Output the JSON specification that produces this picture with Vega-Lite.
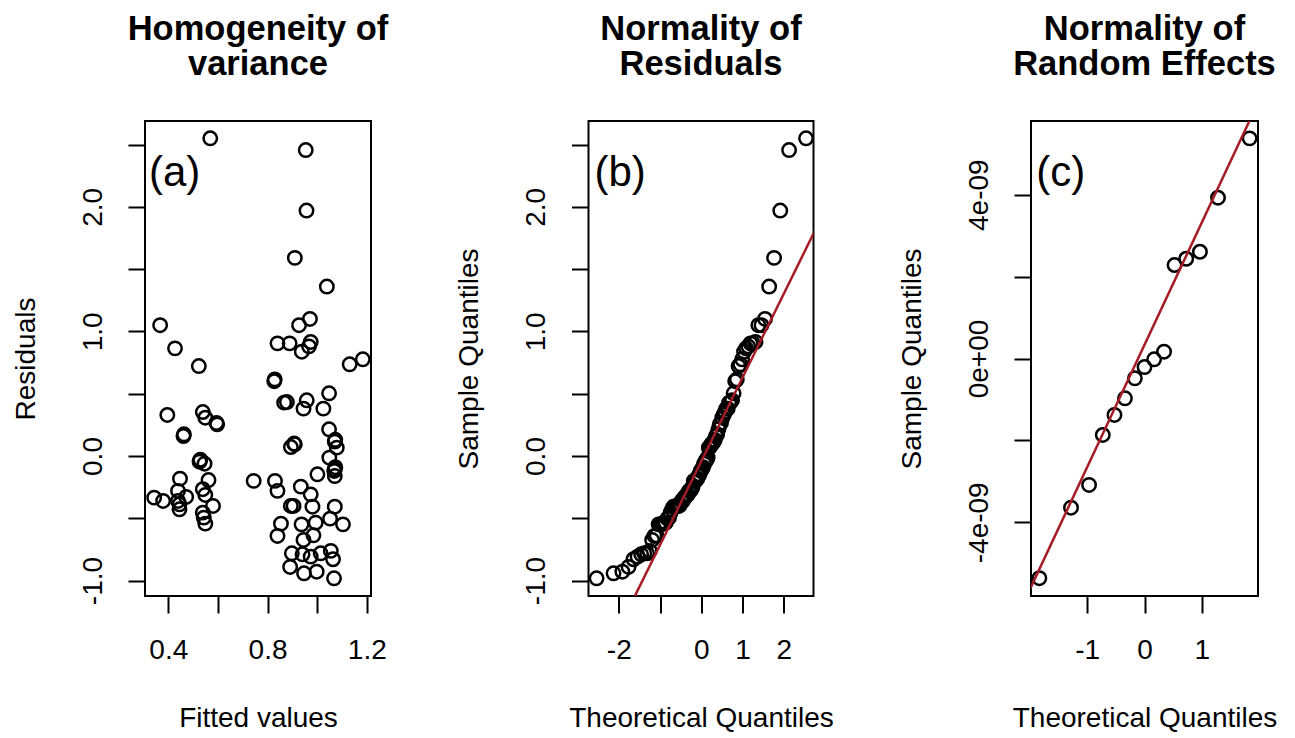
{
  "$schema": "https://vega.github.io/schema/vega-lite/v6.json",
  "autosize": {"type": "pad"},
  "padding": {"left": 11, "top": 10, "right": 5, "bottom": 5},
  "background": "white",
  "bounds": "flush",
  "spacing": 217.5,
  "config": {
    "font": "Liberation Sans",
    "view": {"stroke": "black", "strokeWidth": 2},
    "axis": {
      "domain": false, "grid": false,
      "tickColor": "black", "tickWidth": 2, "tickSize": 17,
      "labelFont": "Liberation Sans", "labelFontSize": 28, "labelColor": "black",
      "titleFont": "Liberation Sans", "titleFontSize": 28, "titleFontWeight": "normal", "titleColor": "black"
    },
    "axisX": {"labelPadding": 23, "titlePadding": 40, "labelAngle": 0},
    "axisY": {"labelPadding": 21, "titlePadding": 39, "labelAngle": -90, "labelAlign": "center", "labelBaseline": "bottom"},
    "title": {"font": "Liberation Sans", "fontSize": 34.5, "fontWeight": "bold", "color": "black", "anchor": "middle", "frame": "group", "lineHeight": 35, "offset": 39}
  },
  "datasets": {
    "residuals": [
      {"fitted": 0.569, "residual": 2.55}, {"fitted": 0.954, "residual": 2.456}, {"fitted": 0.957, "residual": 1.97},
      {"fitted": 0.910, "residual": 1.59}, {"fitted": 1.039, "residual": 1.36}, {"fitted": 0.367, "residual": 1.05},
      {"fitted": 0.971, "residual": 1.10}, {"fitted": 0.927, "residual": 1.05}, {"fitted": 0.427, "residual": 0.864},
      {"fitted": 0.840, "residual": 0.904}, {"fitted": 0.889, "residual": 0.904}, {"fitted": 0.974, "residual": 0.915},
      {"fitted": 0.967, "residual": 0.88}, {"fitted": 0.938, "residual": 0.837}, {"fitted": 1.131, "residual": 0.736},
      {"fitted": 1.184, "residual": 0.776}, {"fitted": 0.523, "residual": 0.722}, {"fitted": 0.827, "residual": 0.60},
      {"fitted": 1.048, "residual": 0.503}, {"fitted": 0.867, "residual": 0.428}, {"fitted": 0.878, "residual": 0.433},
      {"fitted": 0.958, "residual": 0.447}, {"fitted": 0.945, "residual": 0.38}, {"fitted": 1.025, "residual": 0.38},
      {"fitted": 0.396, "residual": 0.329}, {"fitted": 0.539, "residual": 0.353}, {"fitted": 0.549, "residual": 0.307},
      {"fitted": 0.597, "residual": 0.254}, {"fitted": 0.463, "residual": 0.174}, {"fitted": 1.048, "residual": 0.214},
      {"fitted": 1.071, "residual": 0.115}, {"fitted": 1.079, "residual": 0.067}, {"fitted": 0.894, "residual": 0.072},
      {"fitted": 0.910, "residual": 0.094}, {"fitted": 1.049, "residual": -0.013}, {"fitted": 0.526, "residual": -0.046},
      {"fitted": 0.546, "residual": -0.062}, {"fitted": 1.071, "residual": -0.107}, {"fitted": 1.071, "residual": -0.161},
      {"fitted": 1.001, "residual": -0.147}, {"fitted": 0.744, "residual": -0.2}, {"fitted": 0.830, "residual": -0.2},
      {"fitted": 0.840, "residual": -0.28}, {"fitted": 0.447, "residual": -0.182}, {"fitted": 0.562, "residual": -0.193},
      {"fitted": 0.934, "residual": -0.246}, {"fitted": 0.974, "residual": -0.308}, {"fitted": 0.539, "residual": -0.267},
      {"fitted": 0.549, "residual": -0.313}, {"fitted": 0.439, "residual": -0.281}, {"fitted": 0.472, "residual": -0.329},
      {"fitted": 0.343, "residual": -0.334}, {"fitted": 0.379, "residual": -0.361}, {"fitted": 0.439, "residual": -0.361},
      {"fitted": 0.445, "residual": -0.388}, {"fitted": 0.445, "residual": -0.428}, {"fitted": 0.58, "residual": -0.401},
      {"fitted": 0.894, "residual": -0.401}, {"fitted": 0.905, "residual": -0.401}, {"fitted": 0.981, "residual": -0.407},
      {"fitted": 1.071, "residual": -0.407}, {"fitted": 0.539, "residual": -0.455}, {"fitted": 0.543, "residual": -0.495},
      {"fitted": 0.549, "residual": -0.543}, {"fitted": 1.052, "residual": -0.503}, {"fitted": 1.104, "residual": -0.549},
      {"fitted": 0.854, "residual": -0.543}, {"fitted": 0.937, "residual": -0.549}, {"fitted": 0.994, "residual": -0.535},
      {"fitted": 0.84, "residual": -0.642}, {"fitted": 0.945, "residual": -0.674}, {"fitted": 0.985, "residual": -0.637},
      {"fitted": 0.898, "residual": -0.781}, {"fitted": 0.941, "residual": -0.789}, {"fitted": 0.974, "residual": -0.808},
      {"fitted": 1.014, "residual": -0.781}, {"fitted": 1.055, "residual": -0.762}, {"fitted": 1.064, "residual": -0.829},
      {"fitted": 0.891, "residual": -0.891}, {"fitted": 0.947, "residual": -0.942}, {"fitted": 0.998, "residual": -0.929},
      {"fitted": 1.068, "residual": -0.982},
      {"fitted": 1.069, "residual": -0.12}, {"fitted": 1.073, "residual": -0.09}, {"fitted": 0.529, "residual": -0.03},
      {"fitted": 0.907, "residual": 0.10}, {"fitted": 1.073, "residual": 0.13}, {"fitted": 0.461, "residual": 0.16},
      {"fitted": 0.594, "residual": 0.265}, {"fitted": 0.829, "residual": 0.615}
    ],
    "qq_resid": [
      {"theoretical": -2.539, "sample": -0.982}, {"theoretical": -2.128, "sample": -0.942}, {"theoretical": -1.914, "sample": -0.929},
      {"theoretical": -1.764, "sample": -0.891}, {"theoretical": -1.645, "sample": -0.829}, {"theoretical": -1.545, "sample": -0.808},
      {"theoretical": -1.459, "sample": -0.789}, {"theoretical": -1.383, "sample": -0.781}, {"theoretical": -1.314, "sample": -0.781},
      {"theoretical": -1.250, "sample": -0.762}, {"theoretical": -1.192, "sample": -0.674}, {"theoretical": -1.137, "sample": -0.642},
      {"theoretical": -1.085, "sample": -0.637}, {"theoretical": -1.036, "sample": -0.549}, {"theoretical": -0.990, "sample": -0.549},
      {"theoretical": -0.946, "sample": -0.543}, {"theoretical": -0.903, "sample": -0.543}, {"theoretical": -0.862, "sample": -0.535},
      {"theoretical": -0.822, "sample": -0.503}, {"theoretical": -0.783, "sample": -0.495}, {"theoretical": -0.746, "sample": -0.455},
      {"theoretical": -0.710, "sample": -0.428}, {"theoretical": -0.674, "sample": -0.407}, {"theoretical": -0.640, "sample": -0.407},
      {"theoretical": -0.606, "sample": -0.401}, {"theoretical": -0.573, "sample": -0.401}, {"theoretical": -0.541, "sample": -0.401},
      {"theoretical": -0.509, "sample": -0.388}, {"theoretical": -0.477, "sample": -0.361}, {"theoretical": -0.446, "sample": -0.361},
      {"theoretical": -0.415, "sample": -0.334}, {"theoretical": -0.385, "sample": -0.329}, {"theoretical": -0.355, "sample": -0.313},
      {"theoretical": -0.326, "sample": -0.308}, {"theoretical": -0.297, "sample": -0.281}, {"theoretical": -0.268, "sample": -0.28},
      {"theoretical": -0.239, "sample": -0.267}, {"theoretical": -0.210, "sample": -0.246}, {"theoretical": -0.182, "sample": -0.2},
      {"theoretical": -0.154, "sample": -0.2}, {"theoretical": -0.126, "sample": -0.193}, {"theoretical": -0.098, "sample": -0.182},
      {"theoretical": -0.070, "sample": -0.161}, {"theoretical": -0.042, "sample": -0.147}, {"theoretical": -0.014, "sample": -0.12},
      {"theoretical": 0.014, "sample": -0.107}, {"theoretical": 0.042, "sample": -0.09}, {"theoretical": 0.070, "sample": -0.062},
      {"theoretical": 0.098, "sample": -0.046}, {"theoretical": 0.126, "sample": -0.03}, {"theoretical": 0.154, "sample": -0.013},
      {"theoretical": 0.182, "sample": 0.067}, {"theoretical": 0.210, "sample": 0.072}, {"theoretical": 0.239, "sample": 0.094},
      {"theoretical": 0.268, "sample": 0.10}, {"theoretical": 0.297, "sample": 0.115}, {"theoretical": 0.326, "sample": 0.13},
      {"theoretical": 0.355, "sample": 0.16}, {"theoretical": 0.385, "sample": 0.174}, {"theoretical": 0.415, "sample": 0.214},
      {"theoretical": 0.446, "sample": 0.254}, {"theoretical": 0.477, "sample": 0.265}, {"theoretical": 0.509, "sample": 0.307},
      {"theoretical": 0.541, "sample": 0.329}, {"theoretical": 0.573, "sample": 0.353}, {"theoretical": 0.606, "sample": 0.38},
      {"theoretical": 0.640, "sample": 0.38}, {"theoretical": 0.674, "sample": 0.428}, {"theoretical": 0.710, "sample": 0.433},
      {"theoretical": 0.746, "sample": 0.447}, {"theoretical": 0.783, "sample": 0.503}, {"theoretical": 0.822, "sample": 0.60},
      {"theoretical": 0.862, "sample": 0.615}, {"theoretical": 0.903, "sample": 0.722}, {"theoretical": 0.946, "sample": 0.736},
      {"theoretical": 0.990, "sample": 0.776}, {"theoretical": 1.036, "sample": 0.837}, {"theoretical": 1.085, "sample": 0.864},
      {"theoretical": 1.137, "sample": 0.88}, {"theoretical": 1.192, "sample": 0.904}, {"theoretical": 1.250, "sample": 0.904},
      {"theoretical": 1.314, "sample": 0.915}, {"theoretical": 1.383, "sample": 1.05}, {"theoretical": 1.459, "sample": 1.05},
      {"theoretical": 1.545, "sample": 1.10}, {"theoretical": 1.645, "sample": 1.36}, {"theoretical": 1.764, "sample": 1.59},
      {"theoretical": 1.914, "sample": 1.97}, {"theoretical": 2.128, "sample": 2.456}, {"theoretical": 2.539, "sample": 2.55}
    ],
    "qqline_resid": [
      {"theoretical": -3, "sample": -2.058}, {"theoretical": 3, "sample": 1.974}
    ],
    "qq_ranef": [
      {"theoretical": -1.834, "sample": -5.366e-9}, {"theoretical": -1.282, "sample": -3.643e-9}, {"theoretical": -0.967, "sample": -3.088e-9},
      {"theoretical": -0.728, "sample": -1.868e-9}, {"theoretical": -0.524, "sample": -1.379e-9}, {"theoretical": -0.341, "sample": -0.972e-9},
      {"theoretical": -0.168, "sample": -0.483e-9}, {"theoretical": 0.0, "sample": -0.208e-9}, {"theoretical": 0.168, "sample": -0.02e-9},
      {"theoretical": 0.341, "sample": 0.166e-9}, {"theoretical": 0.524, "sample": 2.283e-9}, {"theoretical": 0.728, "sample": 2.436e-9},
      {"theoretical": 0.967, "sample": 2.607e-9}, {"theoretical": 1.282, "sample": 3.926e-9}, {"theoretical": 1.834, "sample": 5.376e-9}
    ],
    "qqline_ranef": [
      {"theoretical": -2.5, "sample": -7.134e-9}, {"theoretical": 2.5, "sample": 7.802e-9}
    ]
  },
  "hconcat": [
    {
      "width": 226, "height": 475,
      "title": {"text": ["Homogeneity of", "variance"]},
      "layer": [
        {
          "data": {"name": "residuals"},
          "mark": {"type": "point", "shape": "circle", "filled": false, "color": "black", "strokeWidth": 2.5, "size": 180, "opacity": 1},
          "encoding": {
            "x": {"field": "fitted", "type": "quantitative", "scale": {"domain": [0.306, 1.217], "nice": false, "zero": false},
                  "axis": {"title": "Fitted values", "values": [0.4, 0.6, 0.8, 1.0, 1.2],
                           "labelExpr": "(abs(datum.value-0.4)<1e-6 || abs(datum.value-0.8)<1e-6 || abs(datum.value-1.2)<1e-6) ? format(datum.value, '.1f') : ''"}},
            "y": {"field": "residual", "type": "quantitative", "scale": {"domain": [-1.124, 2.689], "nice": false, "zero": false},
                  "axis": {"title": "Residuals", "values": [-1, -0.5, 0, 0.5, 1, 1.5, 2, 2.5],
                           "labelExpr": "abs(datum.value - round(datum.value)) < 1e-6 ? ((datum.value < 0 ? '-' : '') + format(abs(datum.value), '.1f')) : ''"}}
          }
        },
        {
          "mark": {"type": "rule", "color": "#A51C24", "strokeWidth": 2.5},
          "encoding": {"y": {"datum": 0, "type": "quantitative", "scale": {"domain": [-1.124, 2.689], "nice": false, "zero": false}}}
        },
        {
          "data": {"values": [{"label": "(a)"}]},
          "mark": {"type": "text", "fontSize": 42, "align": "left", "baseline": "middle", "color": "black", "font": "Liberation Sans"},
          "encoding": {
            "x": {"datum": 0.322, "type": "quantitative", "scale": {"domain": [0.306, 1.217], "nice": false, "zero": false}},
            "y": {"datum": 2.27, "type": "quantitative", "scale": {"domain": [-1.124, 2.689], "nice": false, "zero": false}},
            "text": {"field": "label", "type": "nominal"}
          }
        }
      ]
    },
    {
      "width": 225, "height": 475,
      "title": {"text": ["Normality of", "Residuals"]},
      "layer": [
        {
          "data": {"name": "qq_resid"},
          "mark": {"type": "point", "shape": "circle", "filled": false, "color": "black", "strokeWidth": 2.5, "size": 180, "opacity": 1},
          "encoding": {
            "x": {"field": "theoretical", "type": "quantitative", "scale": {"domain": [-2.735, 2.72], "nice": false, "zero": false},
                  "axis": {"title": "Theoretical Quantiles", "values": [-2, -1, 0, 1, 2],
                           "labelExpr": "datum.value == -1 ? '' : ((datum.value < 0 ? '-' : '') + abs(datum.value))"}},
            "y": {"field": "sample", "type": "quantitative", "scale": {"domain": [-1.124, 2.689], "nice": false, "zero": false},
                  "axis": {"title": "Sample Quantiles", "values": [-1, -0.5, 0, 0.5, 1, 1.5, 2, 2.5],
                           "labelExpr": "abs(datum.value - round(datum.value)) < 1e-6 ? ((datum.value < 0 ? '-' : '') + format(abs(datum.value), '.1f')) : ''"}}
          }
        },
        {
          "data": {"name": "qqline_resid"},
          "mark": {"type": "line", "color": "#A51C24", "strokeWidth": 2.5, "clip": true},
          "encoding": {
            "x": {"field": "theoretical", "type": "quantitative", "scale": {"domain": [-2.735, 2.72], "nice": false, "zero": false}},
            "y": {"field": "sample", "type": "quantitative", "scale": {"domain": [-1.124, 2.689], "nice": false, "zero": false}}
          }
        },
        {
          "data": {"values": [{"label": "(b)"}]},
          "mark": {"type": "text", "fontSize": 42, "align": "left", "baseline": "middle", "color": "black", "font": "Liberation Sans"},
          "encoding": {
            "x": {"datum": -2.59, "type": "quantitative", "scale": {"domain": [-2.735, 2.72], "nice": false, "zero": false}},
            "y": {"datum": 2.27, "type": "quantitative", "scale": {"domain": [-1.124, 2.689], "nice": false, "zero": false}},
            "text": {"field": "label", "type": "nominal"}
          }
        }
      ]
    },
    {
      "width": 227, "height": 475,
      "title": {"text": ["Normality of", "Random Effects"]},
      "layer": [
        {
          "data": {"name": "qq_ranef"},
          "mark": {"type": "point", "shape": "circle", "filled": false, "color": "black", "strokeWidth": 2.5, "size": 180, "opacity": 1},
          "encoding": {
            "x": {"field": "theoretical", "type": "quantitative", "scale": {"domain": [-1.98, 1.98], "nice": false, "zero": false},
                  "axis": {"title": "Theoretical Quantiles", "values": [-1, 0, 1],
                           "labelExpr": "(datum.value < 0 ? '-' : '') + abs(datum.value)"}},
            "y": {"field": "sample", "type": "quantitative", "scale": {"domain": [-5.8e-9, 5.8e-9], "nice": false, "zero": false},
                  "axis": {"title": "Sample Quantiles", "values": [-4e-9, -2e-9, 0, 2e-9, 4e-9],
                           "labelExpr": "round(datum.value*1e9) == 0 ? '0e+00' : (abs(round(datum.value*1e9)) == 2 ? '' : ((round(datum.value*1e9) < 0 ? '-' : '') + abs(round(datum.value*1e9)) + 'e-09'))"}}
          }
        },
        {
          "data": {"name": "qqline_ranef"},
          "mark": {"type": "line", "color": "#A51C24", "strokeWidth": 2.5, "clip": true},
          "encoding": {
            "x": {"field": "theoretical", "type": "quantitative", "scale": {"domain": [-1.98, 1.98], "nice": false, "zero": false}},
            "y": {"field": "sample", "type": "quantitative", "scale": {"domain": [-5.8e-9, 5.8e-9], "nice": false, "zero": false}}
          }
        },
        {
          "data": {"values": [{"label": "(c)"}]},
          "mark": {"type": "text", "fontSize": 42, "align": "left", "baseline": "middle", "color": "black", "font": "Liberation Sans"},
          "encoding": {
            "x": {"datum": -1.89, "type": "quantitative", "scale": {"domain": [-1.98, 1.98], "nice": false, "zero": false}},
            "y": {"datum": 4.53e-9, "type": "quantitative", "scale": {"domain": [-5.8e-9, 5.8e-9], "nice": false, "zero": false}},
            "text": {"field": "label", "type": "nominal"}
          }
        }
      ]
    }
  ]
}
